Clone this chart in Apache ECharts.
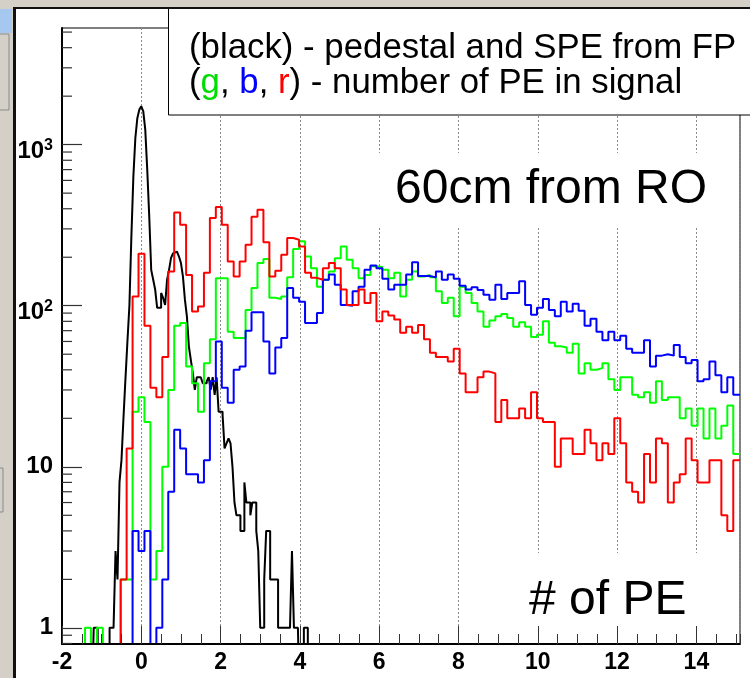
<!DOCTYPE html>
<html><head><meta charset="utf-8">
<script src="https://cdn.jsdelivr.net/npm/echarts@6/dist/echarts.min.js"></script>
<style>html,body{margin:0;padding:0;background:#fff}#c{width:750px;height:678px}</style>
</head><body><div id="c"></div>
<script>
// ---- axis ranges ----
const xMin = -2, xMax = 15.1;
const yMin = 0.794, yMax = 5300;
// ---- colored histograms: 0.15 wide bins ----
const binWidth = 0.15;
const binStart = -2.02;
const greenCounts = [0,0,0,0,1,0,1,0,0,0, 2,2,22,27,19,2,3,10,30,75, 78,42,33,22,44,62,148,148,69,63, 63,94,129,184,195,112,110,114,150,225, 251,202,171,131,145,163,197,233,193,171, 148,155,176,174,167,148,160,114,145,163, 152,155,150,123,104,112,86,131,120,104, 92,74,81,86,89,84,74,79,74,64, 66,80,59,56,55,51,58,38,44,40, 41,44,35,30,36,36,28,27,29,25, 34,26,27,27,20,23,18,23,15,23, 15,18,24,12];
const blueCounts = [0,0,0,0,0,0,0,0,0,0, 0,0,4,3,4,0,1,2,7,17, 13,9,9,8,11,34,60,31,25,40, 42,70,91,91,60,38,55,63,129,112, 106,78,78,90,145,156,135,101,100,123, 131,167,178,171,147,126,135,135,156,186, 153,153,150,163,145,156,147,133,126,130, 125,117,109,135,110,120,120,142,101,88, 97,110,94,86,106,92,103,93,75,83, 69,61,69,61,65,54,51,51,61,42, 49,50,49,57,48,44,46,34,35,45, 37,29,36,28];
const redCounts = [0,0,0,0,0,0,0,0,0,0, 2,13,114,210,75,31,27,48,163,379, 318,155,92,99,160,350,410,318,188,152, 188,239,357,394,248,152,165,207,263,257, 233,160,149,145,171,184,171,126,101,101, 126,104,120,80,92,87,82,68,74,68, 76,62,51,48,48,45,54,38,29,29, 36,39,38,19,26,20,20,23,20,29, 20,19,19,10,15,15,12,12,17,14, 11,14,12,20,14,8,7,6,12,8, 15,14,6,8,9,15,11,8,8,11, 11,5,4,11];
// ---- black histogram: 0.05 wide bins starting at -1.25 ----
const blackBinWidth = 0.05;
const blackStart = -1.25;
const blackCounts = [0, 1,1, 0,0,0,0,0,0, 1,1,1, 3, 2, 8, 11, 20, 35, 60, 100, 270, 635, 1100, 1460, 1650, 1730, 1610, 1240, 700, 360, 167, 145, 126, 97, 97, 120, 112, 101, 145, 167, 198, 211, 217, 217, 202, 184, 152, 109, 86, 56, 46, 38, 30, 36, 36, 36, 33, 33, 34, 36, 30, 36, 28, 36, 22, 22, 21, 13, 14, 15, 14, 10, 6, 5, 5, 4, 4, 8, 6, 6, 5, 6, 6, 4, 3, 1, 1, 2, 4, 4, 2, 2, 2, 2, 1, 1, 1, 1, 1, 1, 1, 3, 1, 1, 1, 0, 0, 1, 1, 0];
// ---- ticks ----
const yMinorTicks = [0.8,0.9,2,3,4,5,6,7,8,9,20,30,40,50,60,70,80,90,200,300,400,500,600,700,800,900,2000,3000,4000,5000];

const FONT = "'Liberation Sans', Arial, Helvetica, sans-serif";
const FLOOR = 0.3; // empty bins drop below the frame

function stepPoints(counts, start, width, endX) {
  const pts = counts.map((c, i) => [start + i * width, c > 0 ? c : FLOOR]);
  const last = counts[counts.length - 1];
  pts.push([endX !== undefined ? endX : start + counts.length * width, last > 0 ? last : FLOOR]);
  return pts;
}
function hist(name, counts, start, width, color, lw, endX) {
  return {
    name, type: 'line', step: 'end', xAxisIndex: 2, yAxisIndex: 0,
    data: stepPoints(counts, start, width, endX),
    symbol: 'none', showSymbol: false, clip: true, z: 2,
    lineStyle: { color, width: lw }, itemStyle: { color },
    silent: true, animation: false
  };
}

const chart = echarts.init(document.getElementById('c'), null, { renderer: 'canvas' });
const baseX = { type: 'value', min: xMin, max: xMax, position: 'bottom', gridIndex: 0 };
chart.setOption({
  animation: false,
  backgroundColor: '#fff',
  grid: { left: 62, right: 10, top: 28, bottom: 34, show: true, borderColor: '#000', borderWidth: 1, backgroundColor: '#fff' },
  xAxis: [
    Object.assign({}, baseX, { interval: 2, z: 0,
      axisLine: { show: false }, axisTick: { show: false }, axisLabel: { show: false },
      splitLine: { show: true, lineStyle: { color: '#8a8a8a', width: 1, type: [2, 2] } } }),
    Object.assign({}, baseX, { interval: 0.5, z: 6,
      axisLine: { show: false }, axisLabel: { show: false }, splitLine: { show: false },
      axisTick: { show: true, inside: true, length: 10, lineStyle: { color: '#333', width: 1 } } }),
    Object.assign({}, baseX, { interval: 2, z: 6,
      axisLine: { show: true, onZero: false, lineStyle: { color: '#000', width: 2 } },
      axisTick: { show: true, inside: true, length: 18, lineStyle: { color: '#333', width: 1 } },
      splitLine: { show: false },
      axisLabel: { show: true, margin: 7, color: '#000', fontSize: 23, fontWeight: 'bold', fontFamily: FONT, showMaxLabel: false } })
  ],
  yAxis: [{
    type: 'log', logBase: 10, min: yMin, max: yMax, z: 6,
    axisLine: { show: true, onZero: false, lineStyle: { color: '#000', width: 2 } },
    axisTick: { show: true, inside: true, length: 20, lineStyle: { color: '#333', width: 1.2 } },
    splitLine: { show: false },
    axisLabel: {
      show: true, margin: 9, color: '#000', fontSize: 24, fontWeight: 'bold', fontFamily: FONT,
      showMinLabel: false, showMaxLabel: false,
      formatter: function (v) {
        const e = Math.round(Math.log10(v));
        if (Math.abs(Math.log10(v) - e) > 1e-6) return '';
        if (e === 0) return '1';
        if (e === 1) return '10';
        return '{b|10}{s|' + e + '}';
      },
      rich: {
        b: { fontSize: 24, fontWeight: 'bold', fontFamily: FONT, color: '#000', lineHeight: 24, padding: [14, 0, 0, 0] },
        s: { fontSize: 16, fontWeight: 'bold', fontFamily: FONT, color: '#000', lineHeight: 16, padding: [12, 0, 10, 0] }
      }
    }
  }],
  series: [
    hist('black', blackCounts, blackStart, blackBinWidth, '#000000', 2),
    hist('green', greenCounts, binStart, binWidth, '#00ff00', 2, xMax),
    hist('blue', blueCounts, binStart, binWidth, '#0000ff', 2, xMax),
    hist('red', redCounts, binStart, binWidth, '#ff0000', 2, xMax),
    {
      type: 'custom', xAxisIndex: 2, yAxisIndex: 0, z: 7, silent: true, clip: false,
      data: yMinorTicks.map(v => [xMin, v]),
      renderItem: function (params, api) {
        const p = api.coord([api.value(0), api.value(1)]);
        return { type: 'line', shape: { x1: p[0], y1: p[1], x2: p[0] + 10, y2: p[1] },
                 style: { stroke: '#333', lineWidth: 1.2 } };
      }
    }
  ],
  graphic: [
    // white boxes behind the two labels (cover the grid lines)
    { type: 'rect', z: 1, silent: true, shape: { x: 340, y: 153, width: 398, height: 75 }, style: { fill: '#fff' } },
    { type: 'rect', z: 1, silent: true, shape: { x: 495, y: 553, width: 243, height: 90 }, style: { fill: '#fff' } },
    { type: 'text', z: 11, silent: true, x: 395, y: 190,
      style: { text: '60cm from RO', font: '48px ' + FONT, fill: '#000', align: 'left', verticalAlign: 'middle' } },
    { type: 'text', z: 11, silent: true, x: 529, y: 601,
      style: { text: '# of PE', font: '48px ' + FONT, fill: '#000', align: 'left', verticalAlign: 'middle' } },
    // legend box
    { type: 'rect', z: 10, silent: true, shape: { x: 168.5, y: 8.5, width: 620, height: 106.5 }, style: { fill: '#fff', stroke: '#000', lineWidth: 1 } },
    { type: 'text', z: 11, silent: true, x: 189, y: 48,
      style: { text: '(black) - pedestal and SPE from FP', font: '34.8px ' + FONT, fill: '#000', align: 'left', verticalAlign: 'middle' } },
    { type: 'text', z: 11, silent: true, x: 189, y: 83,
      style: { text: '{k|(}{g|g}{k|, }{b|b}{k|, }{r|r}{k|) - number of PE in signal}', font: '34.8px ' + FONT, fill: '#000', align: 'left', verticalAlign: 'middle',
        rich: { k: { fill: '#000', font: '34.8px ' + FONT }, g: { fill: '#00dd00', font: '34.8px ' + FONT }, b: { fill: '#0000ff', font: '34.8px ' + FONT }, r: { fill: '#ff0000', font: '34.8px ' + FONT } } } },
    // window chrome
    { type: 'rect', z: 20, silent: true, shape: { x: 0, y: 0, width: 750, height: 7 }, style: { fill: '#d4d0c8' } },
    { type: 'rect', z: 20, silent: true, shape: { x: 0, y: 0, width: 13, height: 678 }, style: { fill: '#d4d0c8' } },
    { type: 'rect', z: 21, silent: true, shape: { x: 0, y: 9, width: 12, height: 24 }, style: { fill: '#a6c8f0' } },
    { type: 'rect', z: 21, silent: true, shape: { x: -1, y: 34, width: 10, height: 76 }, style: { fill: 'none', stroke: '#8a8a8a', lineWidth: 1 } },
    { type: 'rect', z: 21, silent: true, shape: { x: -1, y: 468, width: 4, height: 44 }, style: { fill: 'none', stroke: '#8a8a8a', lineWidth: 1 } },
    { type: 'rect', z: 22, silent: true, shape: { x: 13, y: 7, width: 737, height: 2 }, style: { fill: '#111' } },
    { type: 'rect', z: 22, silent: true, shape: { x: 13, y: 7, width: 3, height: 671 }, style: { fill: '#111' } }
  ]
});
</script>
</body></html>
